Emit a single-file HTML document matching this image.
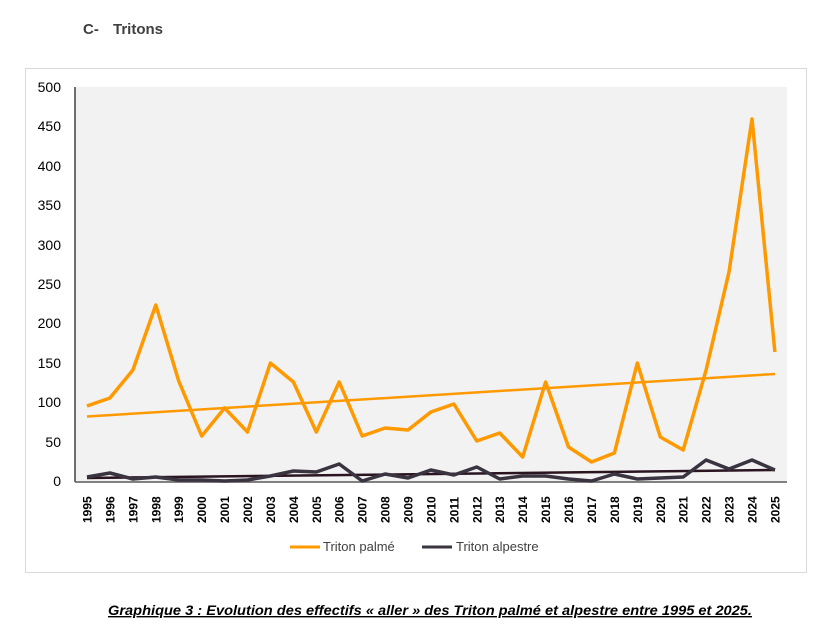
<!DOCTYPE html>
<html><head><meta charset="utf-8"><style>
body{margin:0;background:#fff;width:822px;height:634px;overflow:hidden;font-family:"Liberation Sans",sans-serif;}
</style></head><body>
<svg width="822" height="634" xmlns="http://www.w3.org/2000/svg" font-family="Liberation Sans, sans-serif">
<text x="83" y="34" font-size="15" font-weight="bold" fill="#404040">C-</text>
<text x="113" y="34" font-size="15" font-weight="bold" fill="#404040">Tritons</text>
<rect x="25.5" y="68.5" width="781" height="504" fill="#fff" stroke="#d9d9d9"/>
<rect x="75" y="87" width="712" height="395" fill="#f2f2f2"/>
<g font-size="14" fill="#000" text-anchor="end">
<text x="61" y="92">500</text><text x="61" y="131">450</text><text x="61" y="171">400</text><text x="61" y="210">350</text><text x="61" y="250">300</text><text x="61" y="289">250</text><text x="61" y="328">200</text><text x="61" y="368">150</text><text x="61" y="407">100</text><text x="61" y="447">50</text><text x="61" y="486">0</text>
</g>
<line x1="75" y1="87" x2="75" y2="482" stroke="#404040" stroke-width="1.5"/>
<line x1="75" y1="482" x2="787" y2="482" stroke="#595959" stroke-width="1.5"/>
<g id="lbl" font-size="12" font-weight="bold" fill="#000"></g>
<line x1="87" y1="416.5" x2="775" y2="374" stroke="#ff9900" stroke-width="2.5"/>
<line x1="87" y1="478" x2="775" y2="470" stroke="#2a1420" stroke-width="2.5"/>
<polyline id="bl" fill="none" stroke="#3a3340" stroke-width="3.5" stroke-linejoin="round"/>
<polyline id="or" fill="none" stroke="#ff9900" stroke-width="3.5" stroke-linejoin="round"/>
<line x1="290" y1="547" x2="320" y2="547" stroke="#ff9900" stroke-width="3"/>
<text x="323" y="551" font-size="13" fill="#404040">Triton palmé</text>
<line x1="422" y1="547" x2="452" y2="547" stroke="#3a3340" stroke-width="3"/>
<text x="456" y="551" font-size="13" fill="#404040">Triton alpestre</text>
<text x="430" y="615" font-size="14" font-weight="bold" font-style="italic" text-anchor="middle" text-decoration="underline" fill="#000" textLength="644" lengthAdjust="spacingAndGlyphs">Graphique 3 : Evolution des effectifs « aller » des Triton palmé et alpestre entre 1995 et 2025.</text>
</svg>
<script>
var o=[406,398,370,305,381,436,408,432,363,382,432,382,436,428,430,412,404,441,433,457,382,447,462,453,363,437,450,370,272,119,352];
var b=[477,473,479,477,480,480,481,480,476,471,472,464,481,474,478,470,475,467,479,476,476,479,481,474,479,478,477,460,469,460,470];
function pts(a){return a.map(function(y,i){return (87+i*22.93).toFixed(1)+","+y}).join(" ");}
document.getElementById("or").setAttribute("points",pts(o));
document.getElementById("bl").setAttribute("points",pts(b));
var g=document.getElementById("lbl"),s="";
for(var i=0;i<31;i++){var x=87+i*22.93+4.5;s+='<text transform="translate('+x+',523) rotate(-90)">'+(1995+i)+'</text>';}
g.innerHTML=s;
</script>
</body></html>
